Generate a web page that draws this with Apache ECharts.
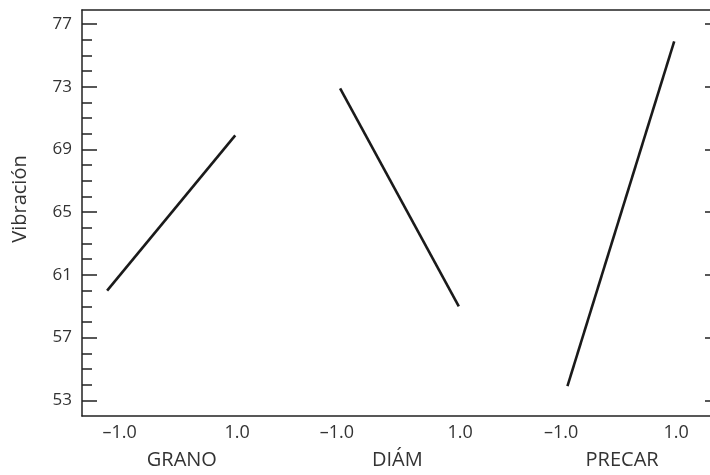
<!DOCTYPE html>
<html>
<head>
<meta charset="utf-8">
<script src="https://cdn.jsdelivr.net/npm/echarts@6/dist/echarts.min.js"></script>
<style>html,body{margin:0;padding:0;background:#fff}#c{width:710px;height:475px}</style>
</head>
<body>
<div id="c"></div>
<script>
// Factors and their mean responses at levels -1 and +1
const factors = ['GRANO', 'DIÁM', 'PRECAR'];
const lowMeans = [60.0, 72.9, 53.9];
const highMeans = [69.9, 59.0, 75.9];
// Positions of each factor's two levels on the shared horizontal axis (axis units 0-100)
const levelPos = [[4.0, 24.4], [41.1, 60.0], [77.3, 94.3]];
const tickLabelPos = [6.0, 24.7, 40.6, 60.2, 76.3, 94.6];
const tickLabels = ['–1.0', '1.0', '–1.0', '1.0', '–1.0', '1.0'];
const factorLabelPos = [15.9, 50.2, 86.0];
// Y axis ticks
const yMajor = [53, 57, 61, 65, 69, 73, 77];
const yMinor = [53,54,55,56,57,58,59,60,61,62,63,64,65,66,67,68,69,70,71,72,73,74,75,76,77];
const yTitle = 'Vibración';

const FONT = 'Open Sans';
const TXT = '#333';
const AX = '#222';
const Y_MIN = 52, Y_MAX = 77.9;

const series = factors.map((f, i) => ({
  type: 'line', name: f, xAxisIndex: 0, yAxisIndex: 0,
  data: [[levelPos[i][0], lowMeans[i]], [levelPos[i][1], highMeans[i]]],
  symbol: 'none', lineStyle: { color: '#1a1a1a', width: 2.6 }, silent: true, animation: false
}));
series.push({ type: 'line', xAxisIndex: 2, yAxisIndex: 2, data: [], silent: true });

const gridBox = { left: 82, top: 10, bottom: 59, right: 0 };
const xBase = { type: 'value', min: 0, max: 100, splitLine: { show: false }, axisTick: { show: false } };
const yBase = { type: 'value', min: Y_MIN, max: Y_MAX, splitLine: { show: false } };
const line = (show) => ({ show: show, onZero: false, lineStyle: { color: AX, width: 1.5 } });

const option = {
  animation: false,
  grid: [Object.assign({}, gridBox), Object.assign({}, gridBox)],
  xAxis: [
    Object.assign({}, xBase, { gridIndex: 0, position: 'bottom', axisLine: line(true),
      axisLabel: { customValues: tickLabelPos, margin: 8, color: TXT, fontFamily: FONT, fontSize: 18,
        formatter: v => tickLabels[tickLabelPos.indexOf(v)] ?? '' } }),
    Object.assign({}, xBase, { gridIndex: 0, position: 'top', axisLine: line(true),
      axisLabel: { show: false } }),
    Object.assign({}, xBase, { gridIndex: 1, position: 'bottom', axisLine: line(false),
      axisLabel: { customValues: factorLabelPos, margin: 34, color: TXT, fontFamily: FONT, fontSize: 20,
        formatter: v => factors[factorLabelPos.indexOf(v)] ?? '' } })
  ],
  yAxis: [
    Object.assign({}, yBase, { gridIndex: 0, position: 'left', axisLine: line(true),
      axisTick: { show: true, inside: true, length: 15, customValues: yMajor, lineStyle: { color: AX, width: 1.5 } },
      axisLabel: { customValues: yMajor, margin: 10, color: TXT, fontFamily: FONT, fontSize: 17 } }),
    Object.assign({}, yBase, { gridIndex: 0, position: 'right', axisLine: line(false),
      axisTick: { show: true, inside: true, length: 5, customValues: yMajor, lineStyle: { color: AX, width: 1.5 } },
      axisLabel: { show: false } }),
    Object.assign({}, yBase, { gridIndex: 1, position: 'left', axisLine: line(false),
      axisTick: { show: true, inside: true, length: 10, customValues: yMinor, lineStyle: { color: AX, width: 1.5 } },
      axisLabel: { show: false } })
  ],
  graphic: [{
    type: 'text', x: 20, y: 199, rotation: Math.PI / 2,
    style: { text: yTitle, fill: TXT, font: '20px "Open Sans"', align: 'center', verticalAlign: 'middle' }
  }],
  series: series
};

const chart = echarts.init(document.getElementById('c'), null, { renderer: 'canvas' });
chart.setOption(option);
</script>
</body>
</html>
